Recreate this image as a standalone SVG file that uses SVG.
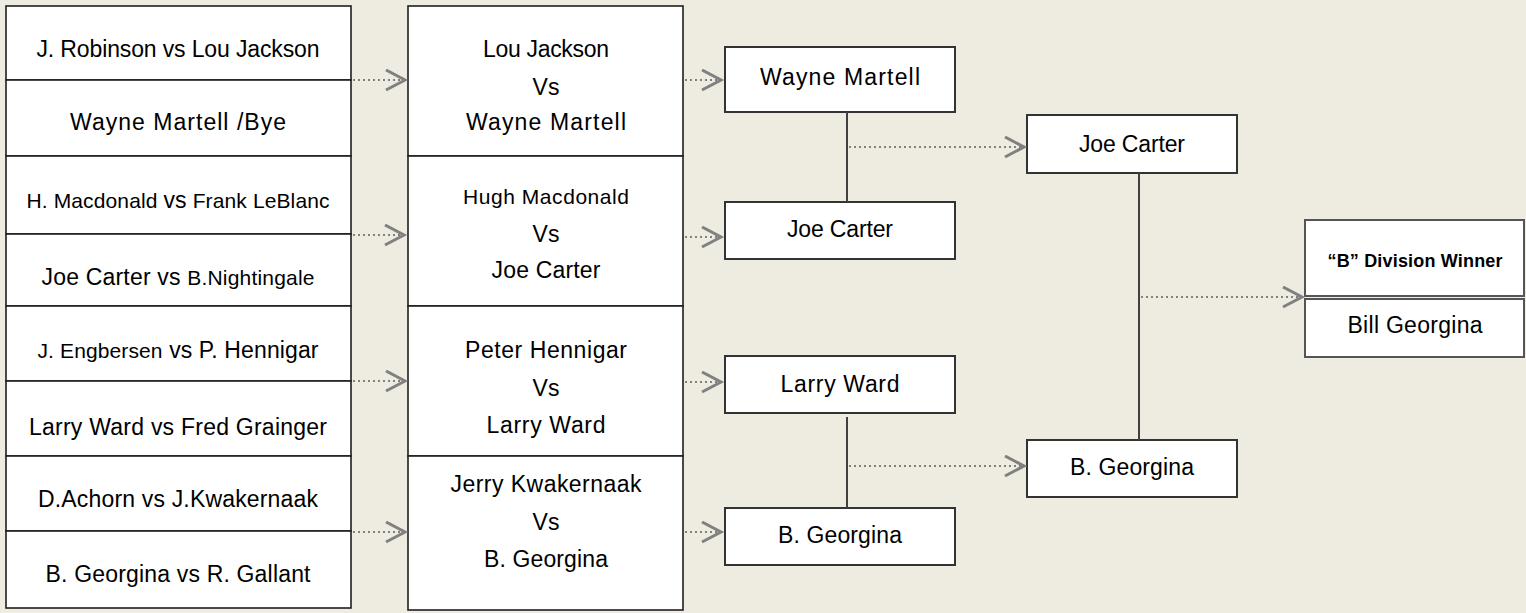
<svg xmlns="http://www.w3.org/2000/svg" width="1526" height="613" viewBox="0 0 1526 613">
<style>
.cell{fill:#ffffff;stroke:#1e1e1e;stroke-width:1.6}
.box{fill:#ffffff;stroke:#333333;stroke-width:2}
.wbox{fill:#ffffff;stroke:#555555;stroke-width:2}
text{font-family:"Liberation Sans",Arial,sans-serif;font-size:23px;fill:#000000;text-anchor:middle}
.sm{font-size:21px}
.b{font-weight:bold;font-size:18px}
.dot{stroke:#808080;stroke-width:2.2;stroke-dasharray:2 3;fill:none;marker-end:url(#chev)}
.solid{stroke:#404040;stroke-width:2;fill:none}
</style>
<defs>
<marker id="chev" markerUnits="userSpaceOnUse" markerWidth="24" markerHeight="24" refX="20" refY="11" orient="auto" viewBox="0 0 24 24">
<path d="M1,1 L20,11 L1,21" fill="none" stroke="#808080" stroke-width="3" stroke-dasharray="none"/>
</marker>
</defs>
<rect width="1526" height="613" fill="#EEECE1"/>

<g id="r1-1"><rect class="cell" x="6" y="6" width="345" height="74"/><text x="178" y="57" textLength="283">J. Robinson vs Lou Jackson</text></g>
<g id="r1-2"><rect class="cell" x="6" y="80" width="345" height="76"/><text x="178" y="130" textLength="216">Wayne Martell /Bye</text></g>
<g id="r1-3"><rect class="cell" x="6" y="156" width="345" height="78"/><text x="178" y="208" textLength="303"><tspan class="sm">H. Macdonald </tspan>vs<tspan class="sm"> Frank LeBlanc</tspan></text></g>
<g id="r1-4"><rect class="cell" x="6" y="234" width="345" height="72"/><text x="178" y="285" textLength="273">Joe Carter vs <tspan class="sm">B.Nightingale</tspan></text></g>
<g id="r1-5"><rect class="cell" x="6" y="306" width="345" height="75"/><text x="178" y="358" textLength="281"><tspan class="sm">J. Engbersen</tspan> vs P. Hennigar</text></g>
<g id="r1-6"><rect class="cell" x="6" y="381" width="345" height="75"/><text x="178" y="435" textLength="298">Larry Ward vs Fred Grainger</text></g>
<g id="r1-7"><rect class="cell" x="6" y="456" width="345" height="75"/><text x="178" y="507" textLength="280">D.Achorn vs J.Kwakernaak</text></g>
<g id="r1-8"><rect class="cell" x="6" y="531" width="345" height="77"/><text x="178" y="582" textLength="265">B. Georgina vs R. Gallant</text></g>

<g id="r2-1"><rect class="cell" x="408" y="6" width="275" height="150"/>
<text x="546" y="57" textLength="126">Lou Jackson</text><text x="546" y="95">Vs</text><text x="546" y="130" textLength="160">Wayne Martell</text></g>
<g id="r2-2"><rect class="cell" x="408" y="156" width="275" height="150"/>
<text x="546" y="204" class="sm" textLength="166">Hugh Macdonald</text><text x="546" y="242">Vs</text><text x="546" y="278" textLength="109">Joe Carter</text></g>
<g id="r2-3"><rect class="cell" x="408" y="306" width="275" height="150"/>
<text x="546" y="358" textLength="162">Peter Hennigar</text><text x="546" y="396">Vs</text><text x="546" y="433" textLength="119">Larry Ward</text></g>
<g id="r2-4"><rect class="cell" x="408" y="456" width="275" height="154"/>
<text x="546" y="492" textLength="191">Jerry Kwakernaak</text><text x="546" y="530">Vs</text><text x="546" y="567" textLength="124">B. Georgina</text></g>

<g id="r3-1"><rect class="box" x="725" y="47" width="230" height="65"/><text x="840" y="85" textLength="160">Wayne Martell</text></g>
<g id="r3-2"><rect class="box" x="725" y="202" width="230" height="57"/><text x="840" y="237" textLength="106">Joe Carter</text></g>
<g id="r3-3"><rect class="box" x="725" y="356" width="230" height="57"/><text x="840" y="392" textLength="119">Larry Ward</text></g>
<g id="r3-4"><rect class="box" x="725" y="508" width="230" height="57"/><text x="840" y="543" textLength="124">B. Georgina</text></g>

<g id="r4-1"><rect class="box" x="1027" y="115" width="210" height="58"/><text x="1132" y="152" textLength="106">Joe Carter</text></g>
<g id="r4-2"><rect class="box" x="1027" y="440" width="210" height="57"/><text x="1132" y="475" textLength="124">B. Georgina</text></g>

<g id="winner"><rect class="wbox" x="1305" y="220" width="219" height="76"/><text x="1415" y="267" class="b" textLength="175">“B” Division Winner</text>
<rect class="wbox" x="1305" y="299" width="219" height="58"/><text x="1415" y="333" textLength="135">Bill Georgina</text></g>

<g id="connectors">
<line class="dot" x1="353" y1="80" x2="405" y2="80"/>
<line class="dot" x1="353" y1="235" x2="404" y2="235"/>
<line class="dot" x1="353" y1="381" x2="405" y2="381"/>
<line class="dot" x1="353" y1="532" x2="405" y2="532"/>
<line class="dot" x1="685" y1="80" x2="721" y2="80"/>
<line class="dot" x1="685" y1="237" x2="721" y2="237"/>
<line class="dot" x1="685" y1="382" x2="721" y2="382"/>
<line class="dot" x1="685" y1="532" x2="721" y2="532"/>
<line class="solid" x1="847" y1="112" x2="847" y2="202"/>
<line class="solid" x1="847" y1="417" x2="847" y2="508"/>
<line class="solid" x1="1139" y1="173" x2="1139" y2="440"/>
<line class="dot" x1="849" y1="147" x2="1024" y2="147"/>
<line class="dot" x1="849" y1="466" x2="1024" y2="466"/>
<line class="dot" x1="1141" y1="297" x2="1302" y2="297"/>
</g>
</svg>
